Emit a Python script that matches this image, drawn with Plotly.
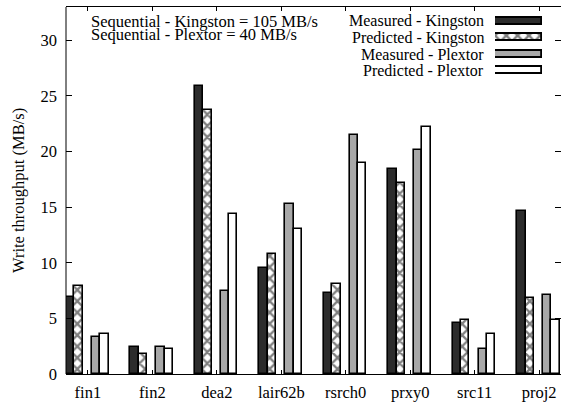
import plotly.graph_objects as go

categories = ["fin1", "fin2", "dea2", "lair62b", "rsrch0", "prxy0", "src11", "proj2"]
measured_kingston = [6.9, 2.4, 25.9, 9.5, 7.3, 18.4, 4.6, 14.7]
predicted_kingston = [7.95, 1.8, 23.7, 10.8, 8.1, 17.2, 4.9, 6.8]
measured_plextor = [3.35, 2.4, 7.45, 15.3, 21.5, 20.1, 2.25, 7.1]
predicted_plextor = [3.6, 2.25, 14.35, 13.0, 19.0, 22.25, 3.6, 4.9]
series_names = ["Measured - Kingston", "Predicted - Kingston",
                "Measured - Plextor", "Predicted - Plextor"]
notes = ["Sequential - Kingston = 105 MB/s", "Sequential - Plextor = 40 MB/s"]
y_ticks = [0, 5, 10, 15, 20, 25, 30]

FONT = "'Liberation Serif', 'Times New Roman', Times, serif"
FS = 16.5
W, H = 561, 405
ML, MR, MT, MB = 66, 0, 7, 31
PH = H - MT - MB

def py(pix):
    return 1 - (pix - MT) / PH

x = list(range(len(categories)))
bw = 0.13
styles = [
    dict(color="#2c2c2c"),
    dict(color="white", pattern=dict(shape="x", fgcolor="black", bgcolor="white", size=8, solidity=0.5)),
    dict(color="#a8a8a8"),
    dict(color="white"),
]
offsets = [-0.34, -0.21, 0.06, 0.19]
series = [measured_kingston, predicted_kingston, measured_plextor, predicted_plextor]

fig = go.Figure()
for name, vals, st, off in zip(series_names, series, styles, offsets):
    m = dict(st)
    m["line"] = dict(color="black", width=1.6)
    fig.add_trace(go.Bar(x=x, y=vals, name=name, width=bw, offset=off, marker=m,
                         showlegend=False))

# custom legend swatches (text on the left, box on the right)
for i, (name, st) in enumerate(zip(series_names, styles)):
    m = dict(st)
    m["line"] = dict(color="black", width=1.8)
    fig.add_trace(go.Bar(x=[1], y=[i], orientation="h", width=0.45, marker=m,
                         xaxis="x2", yaxis="y2", showlegend=False, hoverinfo="skip"))
    fig.add_annotation(text=name, xref="paper", yref="y2", x=(485 - ML) / (W - ML - MR), y=i,
                       xanchor="right", yanchor="middle", showarrow=False, borderpad=0,
                       font=dict(family=FONT, size=16, color="black"))

for j, t in enumerate(notes):
    fig.add_annotation(text=t, xref="paper", yref="paper", x=(90 - ML) / (W - ML - MR),
                       y=py(21.5 + 12.7 * j), xanchor="left", yanchor="middle",
                       showarrow=False, borderpad=0,
                       font=dict(family=FONT, size=FS, color="black"))

fig.add_annotation(text="Write throughput (MB/s)", xref="paper", yref="paper",
                   x=(18.5 - ML) / (W - ML - MR), y=0.5, textangle=-90,
                   xanchor="center", yanchor="middle", showarrow=False,
                   font=dict(family=FONT, size=FS, color="black"))

# left frame line (right edge is outside the picture)
fig.add_shape(type="line", xref="paper", yref="paper", x0=0, x1=0, y0=0, y1=1,
              line=dict(color="black", width=1))

fig.update_layout(
    width=W, height=H, margin=dict(l=ML, r=MR, t=MT, b=MB),
    paper_bgcolor="white", plot_bgcolor="white",
    font=dict(family=FONT, size=FS, color="black"),
    barmode="overlay", bargap=0,
    xaxis=dict(range=[-0.34, 7.34], tickvals=x, ticktext=categories, ticks="inside",
               ticklen=4, tickcolor="black", showline=True, linecolor="black", linewidth=1,
               mirror="ticks", showgrid=False, zeroline=False, fixedrange=True,
               ticklabelstandoff=3,
               tickfont=dict(family=FONT, size=FS, color="black")),
    yaxis=dict(range=[0, 33], tickvals=y_ticks, ticks="inside", ticklen=6,
               tickcolor="black", showline=False, mirror="ticks", showgrid=False,
               zeroline=False, ticklabelstandoff=8,
               tickfont=dict(family=FONT, size=FS, color="black")),
    xaxis2=dict(domain=[(495 - ML) / (W - ML), (542 - ML) / (W - ML)], range=[0, 1],
                anchor="y2", visible=False, fixedrange=True),
    yaxis2=dict(domain=[py(78.9), py(12.9)], range=[3.5, -0.5], anchor="x2",
                visible=False, fixedrange=True),
)

fig.write_html("out.html")
